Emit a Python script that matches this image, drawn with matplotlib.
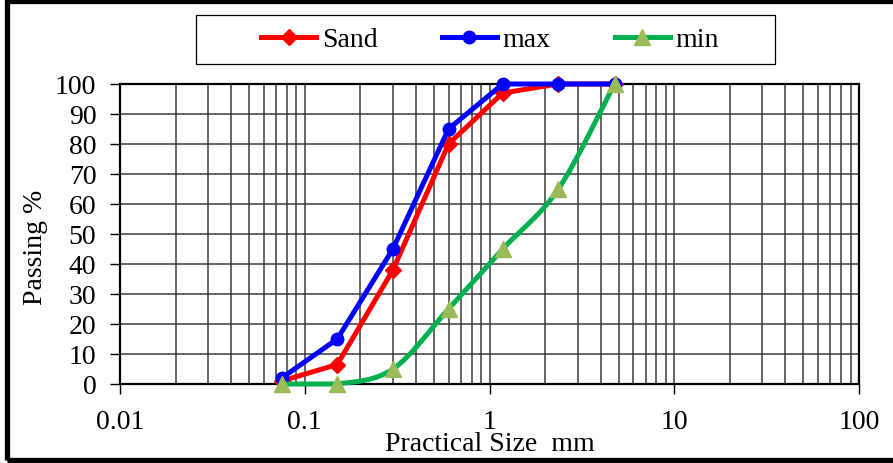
import numpy as np
import matplotlib
matplotlib.use("Agg")
import matplotlib.pyplot as plt
from matplotlib.path import Path
from matplotlib.patches import PathPatch, Rectangle
from matplotlib.lines import Line2D

plt.rcParams['font.family'] = ['Liberation Serif', 'DejaVu Serif']
plt.rcParams['font.size'] = 20

# ---- data ----
sieve_mm = [0.075, 0.15, 0.3, 0.6, 1.18, 2.36, 4.75]
sand = [1, 6.5, 38, 80, 97, 100, 100]
max_limit = [2, 15, 45, 85, 100, 100, 100]
min_limit = [0, 0, 5, 25, 45, 65, 100]
series_names = ["Sand", "max", "min"]
y_ticks = list(range(0, 101, 10))
x_ticks = [0.01, 0.1, 1, 10, 100]
x_ticklabels = ["0.01", "0.1", "1", "10", "100"]

W, H = 893, 463
fig = plt.figure(figsize=(W / 100, H / 100), dpi=100)
ax = fig.add_axes([120 / W, 1 - 384 / H, (859 - 120) / W, 300 / H])

ax.set_xscale('log')
ax.set_xlim(0.01, 100)
ax.set_ylim(0, 100)

RED, BLUE, GREEN, OLIVE = '#FF0000', '#0000FF', '#00B050', '#9BBB59'
LW = 3.6

ax.plot(sieve_mm, sand, color=RED, lw=LW, marker='D', ms=8, mfc=RED, mec=RED,
        clip_on=False, zorder=3)
ax.plot(sieve_mm, max_limit, color=BLUE, lw=LW, marker='o', ms=9, mfc=BLUE, mec=BLUE,
        clip_on=False, zorder=4)

# smoothed (Excel-like) curve for min series, built in log-x space
u = np.log10(np.array(sieve_mm, dtype=float))
v = np.array(min_limit, dtype=float)
n = len(u)
verts = [(u[0], v[0])]
codes = [Path.CURVE4 * 0 + Path.MOVETO]
for i in range(n - 1):
    p0 = np.array([u[max(i - 1, 0)], v[max(i - 1, 0)]])
    p1 = np.array([u[i], v[i]])
    p2 = np.array([u[i + 1], v[i + 1]])
    p3 = np.array([u[min(i + 2, n - 1)], v[min(i + 2, n - 1)]])
    c1 = p1 + (p2 - p0) / 6.0
    c2 = p2 - (p3 - p1) / 6.0
    lo, hi = min(p1[1], p2[1]), max(p1[1], p2[1])
    c1[1] = min(max(c1[1], lo), hi)
    c2[1] = min(max(c2[1], lo), hi)
    verts += [tuple(c1), tuple(c2), tuple(p2)]
    codes += [Path.CURVE4] * 3
verts = [(10 ** a, b) for a, b in verts]
curve = PathPatch(Path(verts, codes), facecolor='none', edgecolor=GREEN, lw=LW,
                  transform=ax.transData, clip_on=False, zorder=5,
                  capstyle='round', joinstyle='round')
ax.add_patch(curve)
ax.plot(sieve_mm, min_limit, linestyle='none', marker='^', ms=11, mfc=OLIVE, mec=OLIVE,
        clip_on=False, zorder=6)

# grid
ax.set_yticks(y_ticks)
ax.set_xticks(x_ticks)
ax.set_xticklabels(x_ticklabels)
ax.xaxis.set_minor_locator(matplotlib.ticker.LogLocator(base=10, subs=np.arange(2, 10)))
ax.xaxis.set_minor_formatter(matplotlib.ticker.NullFormatter())
ax.grid(which='major', axis='both', color='#3a3a3a', lw=1.1)
ax.grid(which='minor', axis='x', color='#3a3a3a', lw=1.1)
ax.set_axisbelow(True)
ax.tick_params(axis='x', which='major', direction='out', length=7, width=1, pad=12,
               labelsize=20)
ax.tick_params(axis='x', which='minor', length=0)
ax.tick_params(axis='y', which='major', direction='out', length=7, width=1, pad=10,
               labelsize=20)
for s in ax.spines.values():
    s.set_linewidth(1.6)
    s.set_color('black')

ax.set_xlabel("Practical Size  mm", fontsize=20)
ax.xaxis.label.set_va('baseline')
ax.xaxis.set_label_coords(0.5, (384 - 451) / 300)
ax.set_ylabel("Passing %", fontsize=20)
ax.yaxis.label.set_va('center')
ax.yaxis.set_label_coords((36 - 120) / 739, (384 - 247) / 300)

# legend
handles = [
    Line2D([], [], color=RED, lw=LW, marker='D', ms=8, mfc=RED, mec=RED),
    Line2D([], [], color=BLUE, lw=LW, marker='o', ms=9, mfc=BLUE, mec=BLUE),
    Line2D([], [], color=GREEN, lw=LW, marker='^', ms=11, mfc=OLIVE, mec=OLIVE),
]
fig.legend(handles, series_names, loc='center', bbox_to_anchor=(490 / W, 1 - 40 / H),
           ncol=3, frameon=False, handlelength=2.0, handletextpad=0.2,
           columnspacing=2.3, fontsize=20, numpoints=1)
fig.add_artist(Rectangle((196 / W, 1 - 64 / H), 579 / W, 49 / H, transform=fig.transFigure,
                         facecolor='none', edgecolor='black', lw=0.9))
# chart-area border
fig.add_artist(Rectangle((6.5 / W, 3 / H), 1.05, (460 - 1) / H, transform=fig.transFigure,
                         facecolor='none', edgecolor='black', lw=3.8, clip_on=False))

fig.savefig("out.png", dpi=100)
